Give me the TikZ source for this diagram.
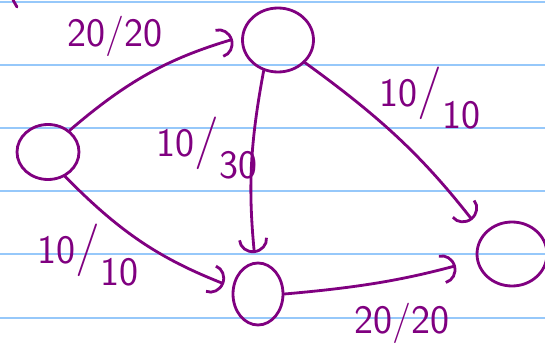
\documentclass[tikz,border=0pt]{standalone}
\usetikzlibrary{arrows.meta,shapes.geometric}
\definecolor{ink}{RGB}{128,0,128}
\definecolor{rule}{RGB}{150,200,250}
\newcommand{\flowlbl}[2]{#1{\fontsize{30}{30}\selectfont/}\raisebox{-1.3ex}{#2}}
\begin{document}
\begin{tikzpicture}[x=0.02cm, y=-0.02cm,
		vertex/.style={ellipse, draw=ink, line width=1.6pt, inner sep=0pt},
		edge/.style={draw=ink, line width=1.6pt, line cap=round,
			-{Arc Barb[length=8pt, width=17pt, line width=1.6pt]}, shorten >=5pt},
		flow/.style={text=ink, font=\sffamily\fontsize{23}{23}\selectfont}]
	\useasboundingbox (0,0) rectangle (545,358);
	\clip (0,0) rectangle (545,358);
	\fill[white] (0,0) rectangle (545,358);
	% linierte Seite
	\foreach \y in {2,65,128,191,254,318}{
		\draw[rule, line width=1.1pt] (0,\y) -- (545,\y);
	}
	\draw[ink, line width=1.6pt, line cap=round] (13,0) -- (17,7);
	% Knoten
	\node[vertex, minimum width=1.24cm, minimum height=1.1cm] (s) at (48,152) {};
	\node[vertex, minimum width=1.42cm, minimum height=1.28cm] (a) at (278,40) {};
	\node[vertex, minimum width=1.0cm, minimum height=1.24cm] (b) at (258,294) {};
	\node[vertex, minimum width=1.4cm, minimum height=1.28cm] (t) at (512,254) {};
	% Kanten
	\draw[edge] (s.45) to[bend left=12] (a.175);
	\draw[edge] (s.-55) to[bend right=12] (b.165);
	\draw[edge] (a.-115) to[bend right=8] (b.95);
	\draw[edge, shorten >=10pt] (a.-40) to[bend left=8] (t.145);
	\draw[edge, shorten >=12pt] (b.0) to[bend right=5] (t.190);
	% Fluss/Kapazitaet
	\node[flow] (fsa) at (115,36) {20/20};
	\node[flow] (fab) at (207,148) {\flowlbl{10}{30}};
	\node[flow] (fsb) at (88,255) {\flowlbl{10}{10}};
	\node[flow] (fat) at (430,98) {\flowlbl{10}{10}};
	\node[flow] (fbt) at (402,323) {20/20};
\end{tikzpicture}
\end{document}
